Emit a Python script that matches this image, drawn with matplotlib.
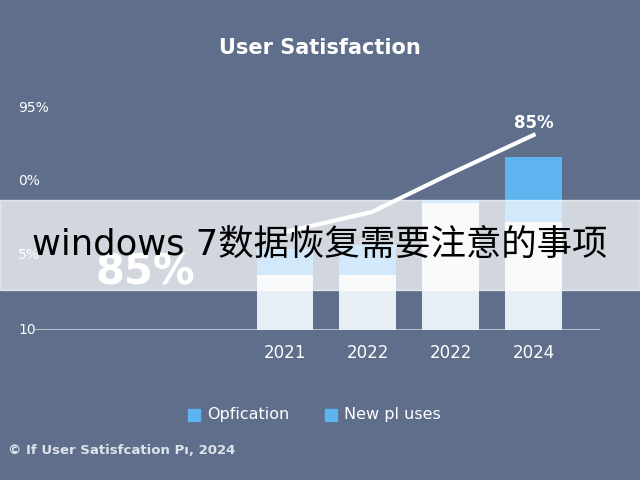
import matplotlib
matplotlib.use("Agg")
import matplotlib.pyplot as plt
from matplotlib.patches import Rectangle

plt.rcParams['font.family'] = ['DejaVu Sans', 'Noto Sans CJK SC']

years = ["2021", "2022", "2022", "2024"]
base_vals = [24, 24, 55, 47]      # lighter lower segment
total_vals = [35, 37, 56.5, 75]   # bar top
line_vals = [42.6, 51.3, 68, 84.8]
line_x = [0, 1.05, 2, 3]
ytick_pos = [96.5, 64.8, 32.6, 0]
ytick_lab = ["95%", "0%", "5%", "10"]

bg = "#5f6e8b"
fig = plt.figure(figsize=(6.4, 4.8), dpi=100, facecolor=bg)
ax = fig.add_axes([35/640, 1-330/480, 565/640, 230/480])
ax.set_facecolor(bg)
ax.set_xlim(-3.01, 3.8)
ax.set_ylim(0, 100)
for s in ax.spines.values():
    s.set_visible(False)
ax.set_xticks([]); ax.set_yticks([])
ax.axhline(0, color="#c8d0dc", lw=1.2)

x = range(len(years))
ax.bar(x, total_vals, width=0.68, color="#5db4ee", zorder=2)
ax.bar(x, base_vals, width=0.68, color="#e8eef6", zorder=3)
ax.plot(line_x, line_vals, color="white", lw=3, zorder=4)
ax.text(3, 90, "85%", color="white", ha="center", va="center", fontsize=12, fontweight="bold")
ax.text(-1.68, 25, "85%", color="white", ha="center", va="center", fontsize=30, fontweight="bold", zorder=5)
for p, l in zip(ytick_pos, ytick_lab):
    fig.text(18/640, 1-(330-p*2.3)/480, l, color="white", ha="left", va="center", fontsize=10)
for i, y in enumerate(years):
    ax.text(i, -6, y, color="white", ha="center", va="top", fontsize=12)

fig.text(0.5, 1-48/480, "User Satisfaction", color="white", ha="center", va="center", fontsize=15, fontweight="bold")

# legend
fig.patches.append(Rectangle((188/640, 1-421/480), 12/640, 12/480, transform=fig.transFigure, color="#5db4ee"))
fig.text(207/640, 1-415/480, "Opfication", color="white", va="center", fontsize=11.5)
fig.patches.append(Rectangle((325/640, 1-421/480), 12/640, 12/480, transform=fig.transFigure, color="#5db4ee"))
fig.text(344/640, 1-415/480, "New pl uses", color="white", va="center", fontsize=11.5)
fig.text(8/640, 1-450/480, "© If User Satisfcation Pı, 2024", color="#dde3ec", va="center", fontsize=9.5, fontweight="bold")

# banner
fig.patches.append(Rectangle((0, 1-290/480), 1, 90/480, transform=fig.transFigure, color="white", alpha=0.72, zorder=10))
fig.text(0.5, 1-245/480, "windows 7数据恢复需要注意的事项", color="black", ha="center", va="center",
         fontsize=25.5, zorder=11, family=['DejaVu Sans', 'Noto Sans CJK SC'])

fig.savefig("out.png", dpi=100, facecolor=bg)
